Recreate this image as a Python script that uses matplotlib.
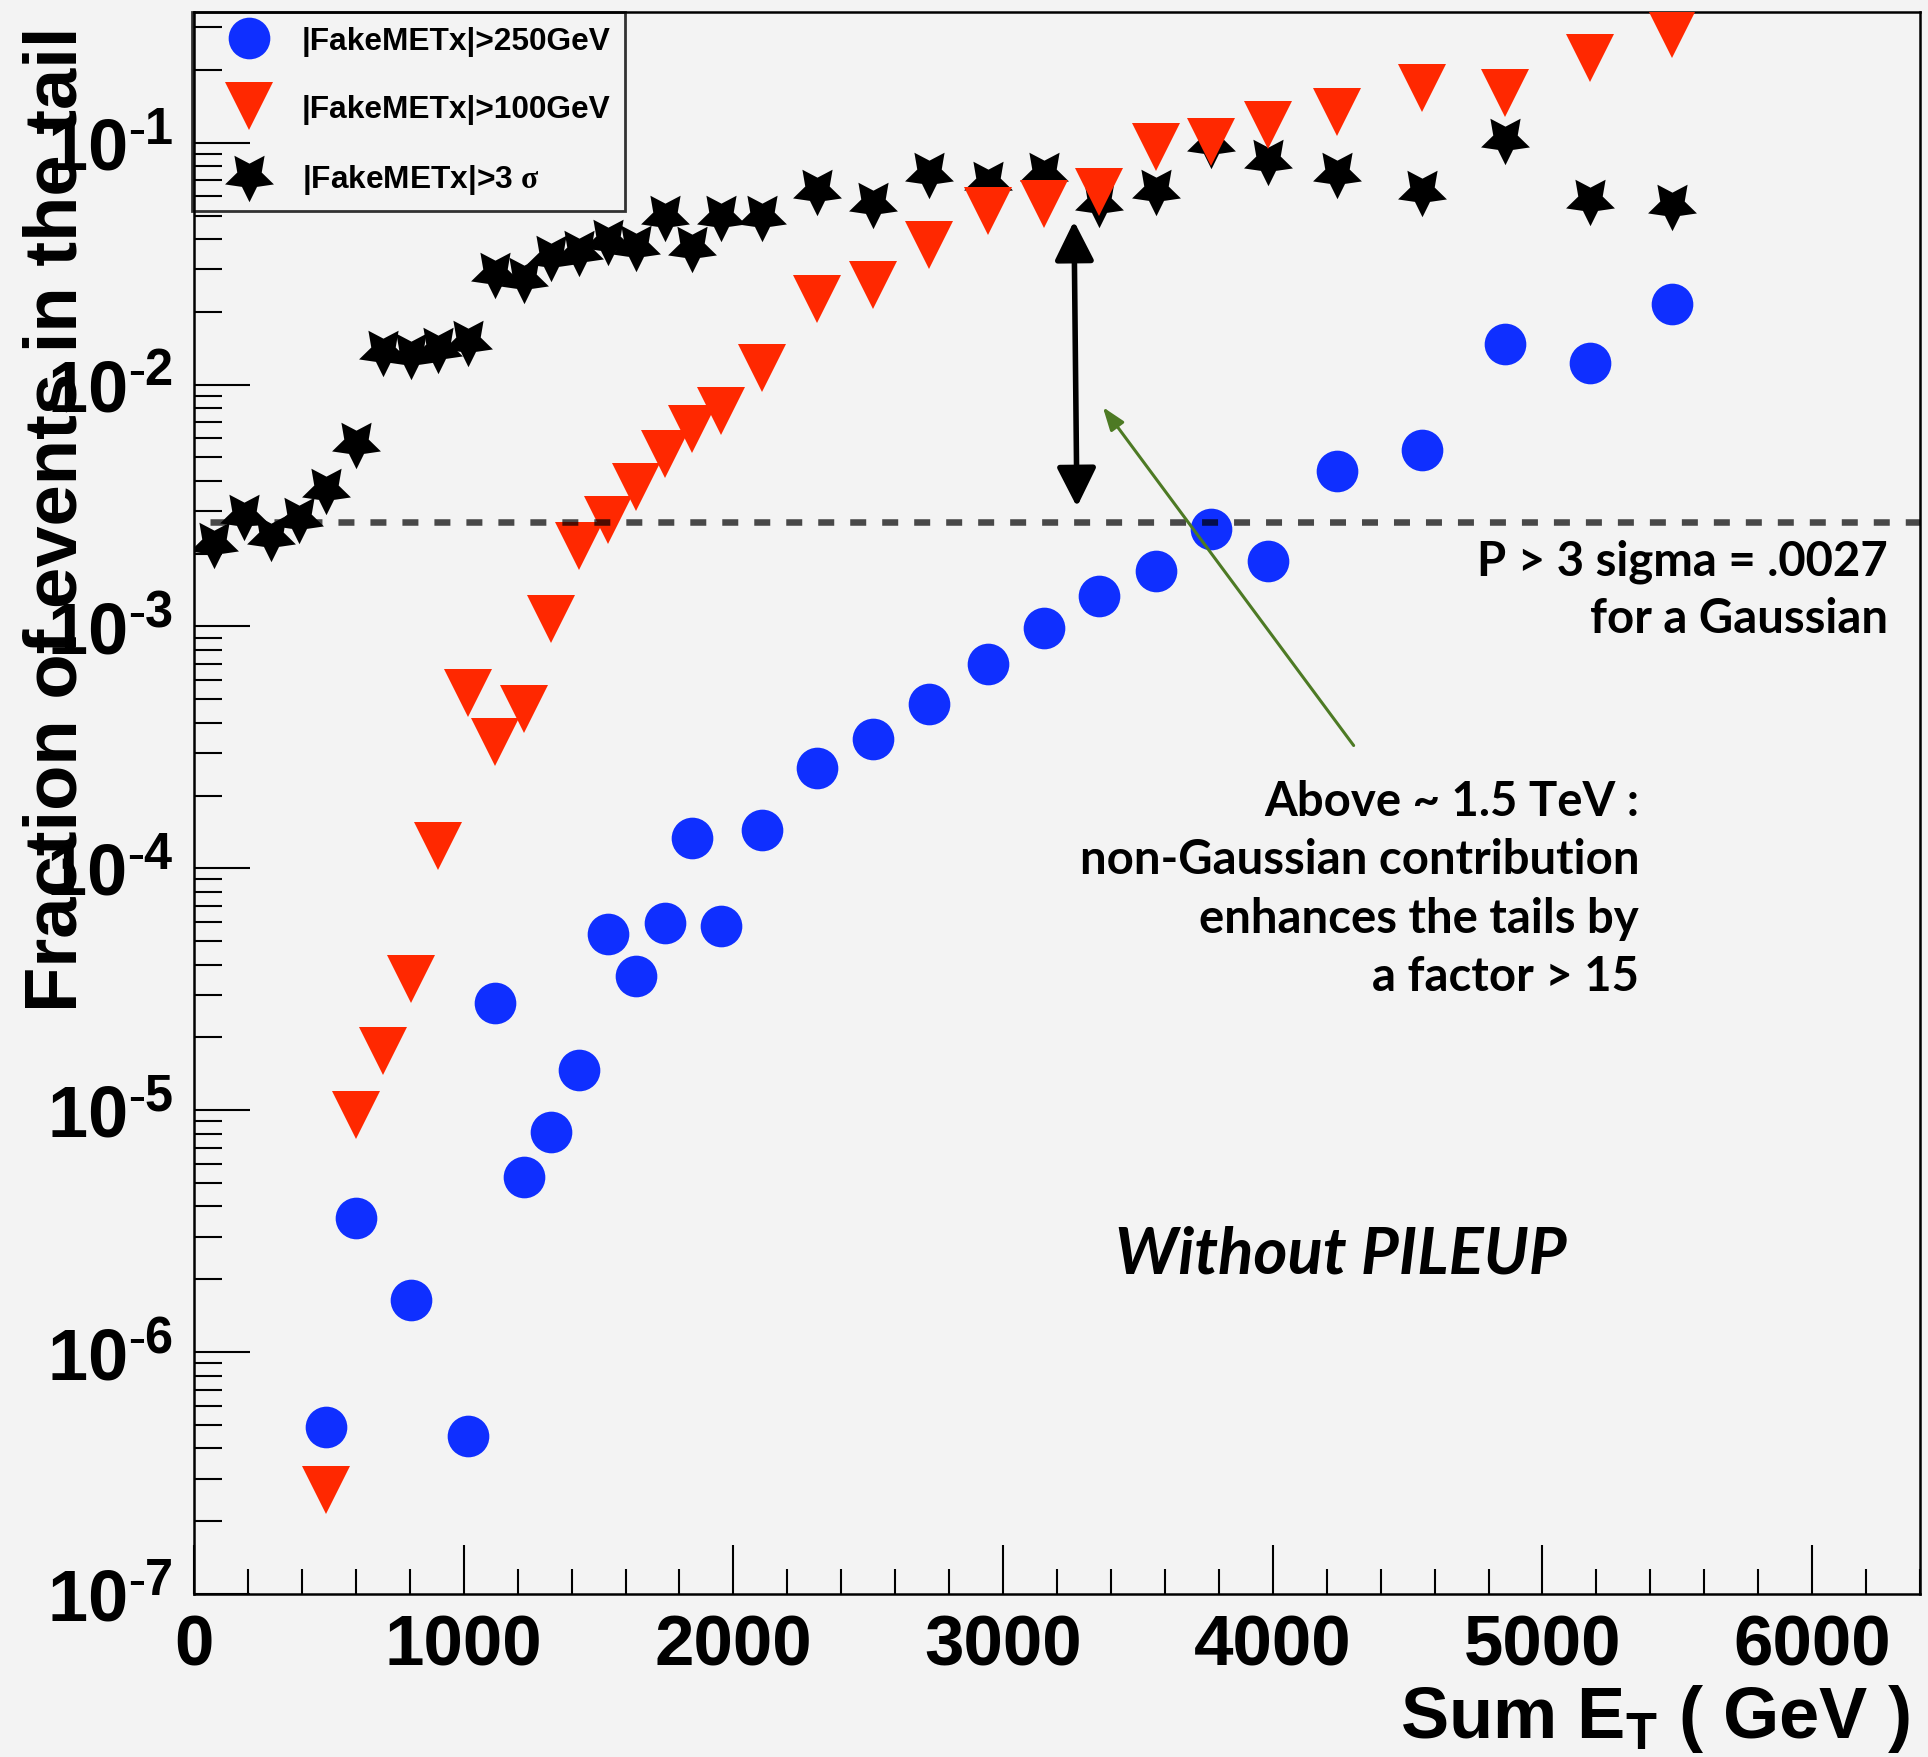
import numpy as np
import matplotlib
matplotlib.use("Agg")
import matplotlib.pyplot as plt
from matplotlib.ticker import MultipleLocator, LogLocator, FuncFormatter, NullFormatter
from matplotlib.markers import MarkerStyle

plt.rcParams["font.family"] = "Liberation Sans"
plt.rcParams["font.weight"] = "bold"
plt.rcParams["mathtext.fontset"] = "custom"
plt.rcParams["mathtext.bf"] = "Liberation Sans:bold"
plt.rcParams["mathtext.rm"] = "Liberation Serif"
plt.rcParams["mathtext.it"] = "Liberation Sans:bold"
plt.rcParams["mathtext.default"] = "bf"

# Sum ET bin centres (GeV)
sum_et = np.array([73, 185, 284, 390, 490, 600, 700, 806, 906, 1015,
                   1115, 1222, 1323, 1428, 1535, 1638, 1745, 1848, 1955, 2105,
                   2310, 2516, 2726, 2944, 3151, 3356, 3566, 3772, 3981, 4237,
                   4555, 4861, 5177, 5482])

nan = np.nan
# fraction of events with |FakeMETx| > 250 GeV
frac_250 = np.array([nan, nan, nan, nan, 4.9e-7, 3.6e-6, nan, 1.65e-6, nan, 4.5e-7,
                     2.77e-5, 5.3e-6, 8.1e-6, 1.47e-5, 5.35e-5, 3.59e-5, 5.96e-5, 1.33e-4, 5.77e-5, 1.44e-4,
                     2.6e-4, 3.42e-4, 4.78e-4, 7.0e-4, 9.9e-4, 1.34e-3, 1.70e-3, 2.53e-3, 1.87e-3, 4.4e-3,
                     5.35e-3, 1.47e-2, 1.23e-2, 2.15e-2])
# fraction of events with |FakeMETx| > 100 GeV
frac_100 = np.array([nan, nan, nan, nan, 2.7e-7, 9.6e-6, 1.76e-5, 3.5e-5, 1.24e-4, 5.3e-4,
                     3.33e-4, 4.55e-4, 1.07e-3, 2.15e-3, 2.75e-3, 3.77e-3, 5.16e-3, 6.55e-3, 7.76e-3, 1.17e-2,
                     2.26e-2, 2.58e-2, 3.78e-2, 5.2e-2, 5.6e-2, 6.25e-2, 9.6e-2, 0.1005, 0.118, 0.134,
                     0.168, 0.160, 0.224, 0.281])
# fraction of events with |FakeMETx| > 3 sigma
frac_3sig = np.array([2.21e-3, 2.89e-3, 2.37e-3, 2.8e-3, 3.7e-3, 5.73e-3, 1.38e-2, 1.34e-2, 1.42e-2, 1.51e-2,
                      2.89e-2, 2.75e-2, 3.4e-2, 3.56e-2, 3.96e-2, 3.73e-2, 5.0e-2, 3.7e-2, 5.0e-2, 5.0e-2,
                      6.37e-2, 5.62e-2, 7.5e-2, 6.9e-2, 7.5e-2, 5.7e-2, 6.37e-2, 0.0995, 8.5e-2, 7.5e-2,
                      6.3e-2, 0.104, 5.8e-2, 5.5e-2])

series_labels = ["|FakeMETx|>250GeV", "|FakeMETx|>100GeV", r"|FakeMETx|>3 $\mathrm{\sigma}$"]
gauss_3sigma = 0.0027

W, H = 1928, 1758
BG = "#f3f3f3"


def fx(px):
    return px / W


def fy(py):
    return 1 - py / H


def decade_label(v, pos):
    e = int(round(np.log10(v)))
    if e < 0:
        return r"$10^{\text{-}%d}$" % (-e)
    return r"$10^{%d}$" % e


fig = plt.figure(figsize=(W / 100, H / 100), dpi=100, facecolor=BG)
ax = fig.add_axes([fx(194), fy(1595), fx(1920) - fx(194), fy(13) - fy(1595)])
ax.set_facecolor(BG)
ax.set_yscale("log")
ax.set_xlim(0, 6400)
ax.set_ylim(1e-7, 0.347)

for sp in ax.spines.values():
    sp.set_linewidth(1.8)

ax.xaxis.set_major_locator(MultipleLocator(1000))
ax.xaxis.set_minor_locator(MultipleLocator(200))
ax.yaxis.set_major_locator(LogLocator(base=10, numticks=20))
ax.yaxis.set_minor_locator(LogLocator(base=10, subs=np.arange(2, 10), numticks=20))
ax.yaxis.set_minor_formatter(NullFormatter())
ax.yaxis.set_major_formatter(FuncFormatter(decade_label))

ax.tick_params(axis="x", which="major", direction="in", length=35, width=1.5,
               top=False, labelsize=51, pad=14)
ax.tick_params(axis="x", which="minor", direction="in", length=18, width=1.5, top=False)
ax.tick_params(axis="y", which="major", direction="in", length=40, width=1.5,
               right=False, labelsize=52, pad=15)
ax.tick_params(axis="y", which="minor", direction="in", length=20, width=1.5, right=False)

star_down = MarkerStyle((5, 1, 180))
h3 = ax.plot(sum_et, frac_3sig, ls="none", marker=star_down, ms=37, mew=0,
             color="black", zorder=3)[0]
h1 = ax.plot(sum_et, frac_250, ls="none", marker="o", ms=30, mew=0,
             color="#0f2fff", zorder=3.1)[0]
h2 = ax.plot(sum_et, frac_100, ls="none", marker="v", ms=34.5, mew=0,
             color="#ff2800", zorder=3.2)[0]

# Gaussian 3-sigma reference level
ax.plot([60, 6400], [gauss_3sigma, gauss_3sigma], color="black", alpha=0.7, lw=4.7,
        ls=(0, (2.45, 2.45)), zorder=4)

# double arrow between the Gaussian level and the measured tail
ax.annotate("", xy=(3263, 0.0474), xytext=(3274, 0.00312),
            arrowprops=dict(arrowstyle="<|-|>,head_length=24,head_width=12",
                            mutation_scale=1, lw=4, color="black",
                            shrinkA=0, shrinkB=0), zorder=5)
# pointer from the comment
ax.annotate("", xy=(3370, 8.07e-3), xytext=(4300, 3.22e-4),
            arrowprops=dict(arrowstyle="-|>,head_length=14,head_width=5",
                            mutation_scale=1, lw=2.2, color="#4d7a24",
                            shrinkA=0, shrinkB=0), zorder=5)

leg = ax.legend([h1, h2, h3], series_labels, loc="upper left",
                bbox_to_anchor=(fx(192), fy(13)), bbox_transform=fig.transFigure,
                frameon=True, fancybox=False, edgecolor="black", facecolor="none",
                fontsize=22.8, borderaxespad=0, borderpad=0.45, handlelength=2.7,
                handletextpad=0.32, labelspacing=1.2, numpoints=1)
leg.get_frame().set_linewidth(2.0)

fig.text(fx(57), fy(27), "Fraction of events in the tail", rotation=90,
         ha="center", va="top", fontsize=53.5, fontweight="bold")
fig.text(fx(1910), fy(1738), r"Sum $E_{T}$ ( GeV )", ha="right", va="baseline",
         fontsize=52, fontweight="bold")

note_font = dict(family="Lato", fontweight="bold", fontsize=34, color="black")
fig.text(fx(1888), fy(575), "P > 3 sigma = .0027", ha="right", va="baseline", **note_font)
fig.text(fx(1888), fy(633), "for a Gaussian", ha="right", va="baseline", **note_font)

comment = ["Above ~ 1.5 TeV :", "non-Gaussian contribution",
           "enhances the tails by", "a factor > 15"]
for i, line in enumerate(comment):
    fig.text(fx(1639), fy(816 + 58.3 * i), line, ha="right", va="baseline", **note_font)

fig.text(fx(1115), fy(1274), "Without PILEUP", ha="left", va="baseline",
         family="Lato", fontweight="bold", style="italic", fontsize=47)

fig.savefig("out.png", dpi=100, facecolor=BG)
